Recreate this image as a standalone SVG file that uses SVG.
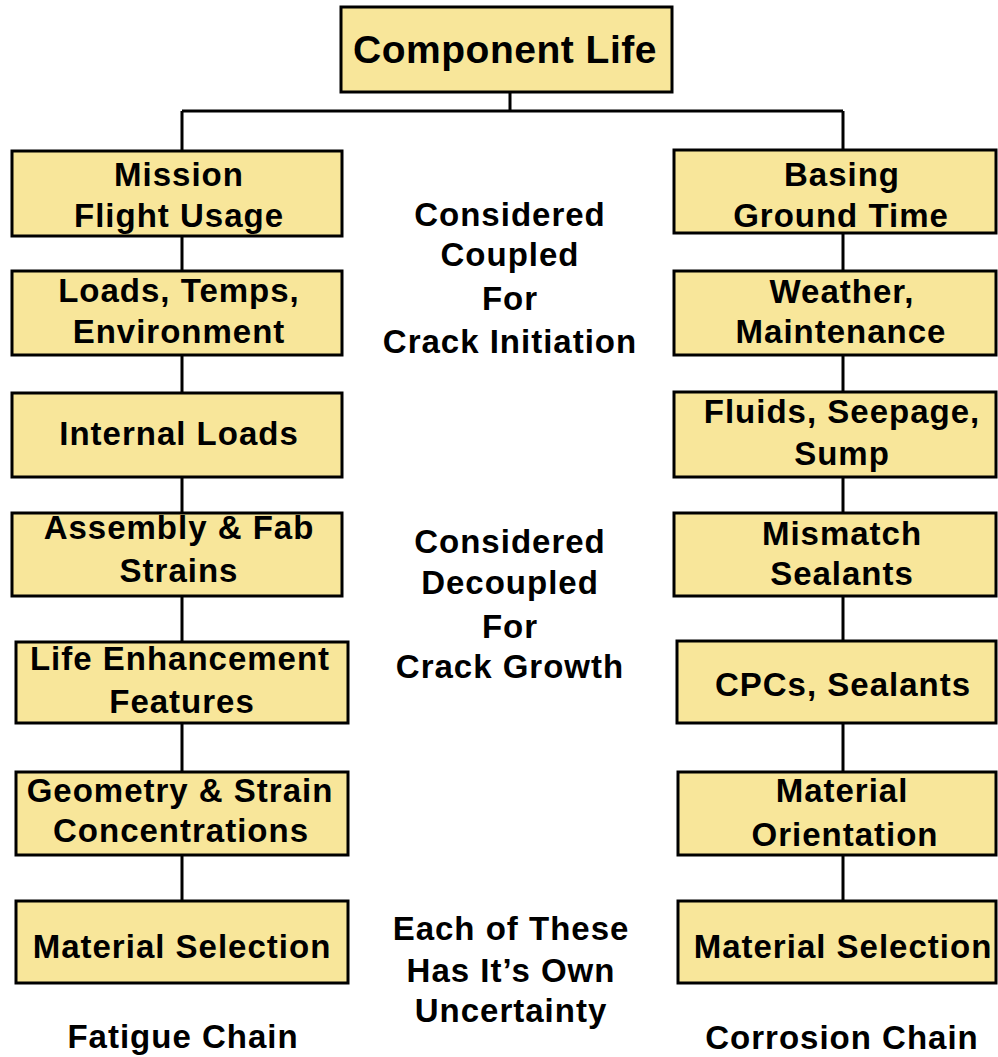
<svg xmlns="http://www.w3.org/2000/svg" width="998" height="1057" viewBox="0 0 998 1057">
<style>
.box{fill:#F8E69A;stroke:#000;stroke-width:3}
.t{font-family:"Liberation Sans",Arial,sans-serif;font-weight:bold;font-size:33px;letter-spacing:1px;fill:#000;text-anchor:middle}
.big{font-size:39px;letter-spacing:0.5px}
.c{stroke:#000;stroke-width:3;fill:none}
</style>
<rect width="998" height="1057" fill="#fff"/>
<g id="connectors">
<path class="c" d="M510 92V111M182 111H843M182 111V151M843 111V150"/>
<path class="c" d="M182 236V271M182 355V393M182 477V513M182 596V642M182 723V772M182 855V901"/>
<path class="c" d="M843 233V271M843 355V392M843 477V513M843 596V641M843 723V772M843 855V901"/>
</g>
<g id="component-life"><rect class="box" x="341" y="7" width="331" height="85"/><text class="t big" x="505" y="63">Component Life</text></g>
<g id="mission"><rect class="box" x="12" y="151" width="330" height="85"/><text class="t" x="179" y="186">Mission</text><text class="t" x="179" y="227">Flight Usage</text></g>
<g id="loads"><rect class="box" x="12" y="271" width="330" height="84"/><text class="t" x="179" y="302">Loads, Temps,</text><text class="t" x="179" y="343">Environment</text></g>
<g id="internal-loads"><rect class="box" x="12" y="393" width="330" height="84"/><text class="t" x="179" y="445">Internal Loads</text></g>
<g id="assembly"><rect class="box" x="12" y="513" width="330" height="83"/><text class="t" x="179" y="539">Assembly &amp; Fab</text><text class="t" x="179" y="582">Strains</text></g>
<g id="life-enhancement"><rect class="box" x="16" y="642" width="332" height="81"/><text class="t" x="180" y="670">Life Enhancement</text><text class="t" x="182" y="713">Features</text></g>
<g id="geometry"><rect class="box" x="16" y="772" width="332" height="83"/><text class="t" x="180" y="802">Geometry &amp; Strain</text><text class="t" x="181" y="842">Concentrations</text></g>
<g id="material-selection-left"><rect class="box" x="16" y="901" width="332" height="82"/><text class="t" x="182" y="958">Material Selection</text></g>
<g id="basing"><rect class="box" x="674" y="150" width="322" height="83"/><text class="t" x="842" y="186">Basing</text><text class="t" x="841" y="227">Ground Time</text></g>
<g id="weather"><rect class="box" x="674" y="271" width="322" height="84"/><text class="t" x="842" y="303">Weather,</text><text class="t" x="841" y="343">Maintenance</text></g>
<g id="fluids"><rect class="box" x="674" y="392" width="322" height="85"/><text class="t" x="842" y="423">Fluids, Seepage,</text><text class="t" x="842" y="465">Sump</text></g>
<g id="mismatch"><rect class="box" x="674" y="513" width="322" height="83"/><text class="t" x="842" y="545">Mismatch</text><text class="t" x="842" y="585">Sealants</text></g>
<g id="cpcs"><rect class="box" x="677" y="641" width="319" height="82"/><text class="t" x="843" y="696">CPCs, Sealants</text></g>
<g id="material-orientation"><rect class="box" x="678" y="772" width="318" height="83"/><text class="t" x="842" y="802">Material</text><text class="t" x="845" y="846">Orientation</text></g>
<g id="material-selection-right"><rect class="box" x="678" y="901" width="318" height="82"/><text class="t" x="843" y="958">Material Selection</text></g>
<g id="notes">
<text class="t" x="510" y="226">Considered</text><text class="t" x="510" y="266">Coupled</text><text class="t" x="510" y="310">For</text><text class="t" x="510" y="353">Crack Initiation</text>
<text class="t" x="510" y="553">Considered</text><text class="t" x="510" y="594">Decoupled</text><text class="t" x="510" y="638">For</text><text class="t" x="510" y="678">Crack Growth</text>
<text class="t" x="511" y="940">Each of These</text><text class="t" x="511" y="982">Has It’s Own</text><text class="t" x="511" y="1022">Uncertainty</text>
<text class="t" x="183" y="1048">Fatigue Chain</text><text class="t" x="842" y="1049">Corrosion Chain</text>
</g>
</svg>
